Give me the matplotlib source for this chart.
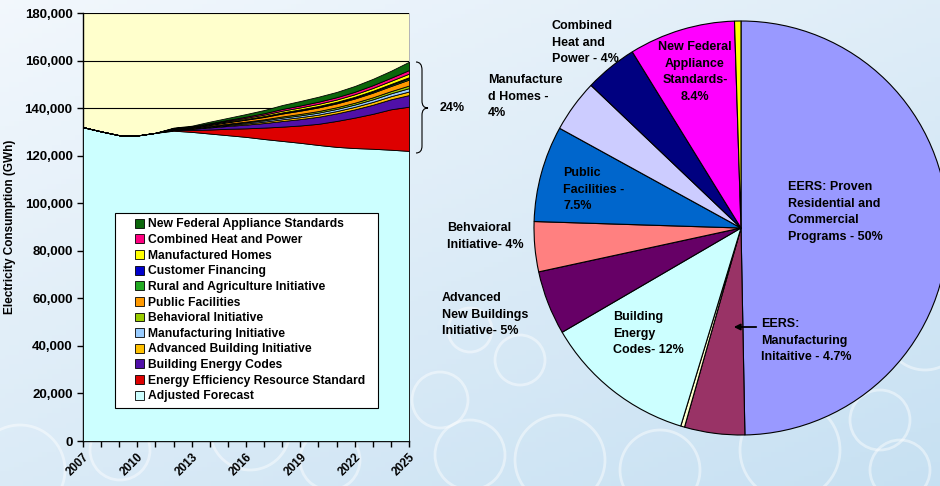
"""Energy savings: stacked consumption forecast (left) and savings share pie (right)."""
import matplotlib

matplotlib.use("Agg")
import matplotlib.pyplot as plt
import numpy as np
from matplotlib.patches import Patch, Rectangle, Circle, PathPatch, FancyArrowPatch
from matplotlib.path import Path
from matplotlib.ticker import FuncFormatter

plt.rcParams["font.family"] = ["Liberation Sans", "DejaVu Sans"]
plt.rcParams["font.weight"] = "bold"
plt.rcParams["axes.labelweight"] = "bold"

# ---- left chart data (GWh) ----
years = [2007, 2008, 2009, 2010, 2011, 2012, 2013, 2014, 2015, 2016,
         2017, 2018, 2019, 2020, 2021, 2022, 2023, 2024, 2025]
adjusted_forecast = [132000, 130200, 128600, 128500, 129600, 130500, 130000, 129300, 128600, 127900,
                     127000, 126200, 125400, 124500, 123700, 123200, 122900, 122500, 122000]
eers = [0, 0, 0, 0, 0, 300, 800, 1700, 2700, 3600, 4800, 6000, 7300, 8900, 10900, 12800, 14700, 17000, 18600]
building_codes = [0, 0, 0, 0, 0, 260, 470, 860, 1200, 1560, 1920, 2370, 2680, 2960, 3170, 3460, 3820, 4210, 4900]
advanced_building = [0, 0, 0, 0, 0, 80, 140, 260, 370, 480, 590, 730, 820, 910, 980, 1060, 1180, 1300, 1500]
manufacturing = [0, 0, 0, 0, 0, 70, 130, 240, 340, 440, 550, 670, 760, 840, 900, 980, 1090, 1200, 1400]
behavioral = [0, 0, 0, 0, 0, 60, 100, 190, 270, 350, 430, 530, 600, 660, 710, 770, 850, 940, 1100]
public_facilities = [0, 0, 0, 0, 0, 130, 240, 440, 610, 800, 980, 1210, 1370, 1520, 1620, 1770, 1960, 2150, 2500]
rural_agriculture = [0, 0, 0, 0, 0, 30, 60, 110, 150, 190, 240, 290, 330, 360, 390, 430, 470, 520, 600]
customer_financing = [0, 0, 0, 0, 0, 20, 40, 70, 100, 130, 160, 190, 220, 240, 260, 280, 310, 340, 400]
manufactured_homes = [0, 0, 0, 0, 0, 80, 140, 260, 370, 480, 590, 730, 820, 910, 980, 1060, 1180, 1300, 1500]
chp = [0, 0, 0, 0, 0, 80, 140, 260, 370, 480, 590, 730, 820, 910, 980, 1060, 1180, 1300, 1500]
federal_appliance = [0, 0, 0, 0, 0, 190, 340, 610, 820, 1090, 1350, 1650, 1880, 2090, 2210, 2430, 2660, 2940, 3500]

stack_names = ["Adjusted Forecast", "Energy Efficiency Resource Standard", "Building Energy Codes",
               "Advanced Building Initiative", "Manufacturing Initiative", "Behavioral Initiative",
               "Public Facilities", "Rural and Agriculture Initiative", "Customer Financing",
               "Manufactured Homes", "Combined Heat and Power", "New Federal Appliance Standards"]
stack_values = [adjusted_forecast, eers, building_codes, advanced_building, manufacturing, behavioral,
                public_facilities, rural_agriculture, customer_financing, manufactured_homes, chp,
                federal_appliance]
stack_colors = ["#CCFFFF", "#DD0000", "#5010A8", "#FFC000", "#99CCFF", "#99CC00",
                "#FF9900", "#22AA22", "#0000CC", "#FFFF00", "#FF0080", "#0B660B"]
year_labels = ["2007", "2010", "2013", "2016", "2019", "2022", "2025"]
savings_label = "24%"

# ---- right chart data (% of savings) ----
pie_labels = ["EERS: Proven\nResidential and\nCommercial\nPrograms - 50%",
              "EERS:\nManufacturing\nInitaitive - 4.7%",
              "",
              "Building\nEnergy\nCodes- 12%",
              "Advanced\nNew Buildings\nInitiative- 5%",
              "Behvaioral\nInitiative- 4%",
              "Public\nFacilities -\n7.5%",
              "Manufacture\nd Homes -\n4%",
              "Combined\nHeat and\nPower - 4%",
              "New Federal\nAppliance\nStandards-\n8.4%",
              ""]
pie_shares = [49.7, 4.7, 0.3, 11.9, 5.0, 3.9, 7.5, 4.1, 4.1, 8.3, 0.5]
pie_colors = ["#9999FF", "#993366", "#FFFFCC", "#CCFFFF", "#660066", "#FF8080",
              "#0066CC", "#CCCCFF", "#000080", "#FF00FF", "#FFFF00"]

W, H = 940, 486


def fx(x):
    return x / W


def fy(y):
    return 1 - y / H


fig = plt.figure(figsize=(W / 100, H / 100), dpi=100)

# background gradient + faint circles (pixel coordinates)
bg = fig.add_axes([0, 0, 1, 1], zorder=-10)
gx, gy = np.meshgrid(np.linspace(0, 1, 200), np.linspace(0, 1, 100))
t = np.clip(0.45 * gx + 0.55 * gy, 0, 1)[..., None]
c0 = np.array([0.95, 0.97, 0.99])
c1 = np.array([0.78, 0.88, 0.95])
bg.imshow(c0 * (1 - t) + c1 * t, aspect="auto", extent=[0, W, H, 0])
for cx, cy, r in [(20, 470, 45), (120, 450, 30), (250, 430, 40), (330, 460, 30), (470, 455, 35),
                  (520, 360, 25), (560, 460, 45), (660, 470, 40), (790, 450, 50), (880, 420, 30),
                  (925, 330, 40), (900, 470, 30), (470, 330, 22), (440, 400, 28)]:
    bg.add_patch(Circle((cx, cy), r, fill=False, edgecolor="white", lw=2, alpha=0.45))
bg.set_xlim(0, W)
bg.set_ylim(H, 0)
bg.axis("off")

# ---- stacked area ----
ax = fig.add_axes([fx(83), fy(441), fx(409) - fx(83), fy(13) - fy(441)])
ax.set_facecolor("#FFFFCC")
ax.stackplot(years, *stack_values, colors=stack_colors, edgecolor="black", linewidth=0.6, zorder=3)
ax.set_xlim(2007, 2025)
ax.set_ylim(0, 180000)
ax.set_yticks(np.arange(0, 180001, 20000))
ax.yaxis.set_major_formatter(FuncFormatter(lambda v, p: f"{int(v):,}"))
ax.yaxis.grid(True, color="black", lw=0.8)
ax.set_axisbelow(True)
ax.set_xticks(years)
ax.set_xticklabels([str(y) if str(y) in year_labels else "" for y in years],
                   rotation=45, ha="right", rotation_mode="anchor", fontsize=8.5)
ax.tick_params(axis="y", labelsize=9.5, length=4, width=1)
ax.tick_params(axis="x", length=4, width=1, pad=3)
ax.set_ylabel("Electricity Consumption (GWh)", fontsize=8.5, fontweight="bold", labelpad=6)
ax.spines["top"].set_visible(False)
ax.spines["right"].set_color("#aaaaaa")
ax.spines["right"].set_linewidth(0.6)
ax.spines["left"].set_linewidth(1.0)
ax.spines["bottom"].set_linewidth(1.0)

ax.add_patch(Rectangle((fx(115), fy(408)), fx(378) - fx(115), fy(213) - fy(408),
                       transform=fig.transFigure, facecolor="white", edgecolor="black",
                       lw=0.8, zorder=5))
handles = [Patch(facecolor=c, edgecolor="black", lw=0.6, label=n)
           for n, c in zip(stack_names, stack_colors)][::-1]
leg = ax.legend(handles=handles, loc="upper left", bbox_to_anchor=(fx(133), fy(216)),
                bbox_transform=fig.transFigure, frameon=False, fontsize=8.7,
                handlelength=0.75, handleheight=0.75, handletextpad=0.3,
                labelspacing=0.3, borderaxespad=0, borderpad=0.2)
leg.set_zorder(6)

# brace and 24%
verts = [(416, 62), (422, 62), (422, 70), (422, 101), (422, 108), (428, 108),
         (422, 108), (422, 115), (422, 146), (422, 153), (416, 153)]
codes = [Path.MOVETO, Path.CURVE3, Path.CURVE3, Path.LINETO, Path.CURVE3, Path.CURVE3,
         Path.CURVE3, Path.CURVE3, Path.LINETO, Path.CURVE3, Path.CURVE3]
brace = Path([(fx(x), fy(y)) for x, y in verts], codes)
fig.add_artist(PathPatch(brace, transform=fig.transFigure, fill=False, edgecolor="black", lw=0.8))
fig.text(fx(440), fy(108), savings_label, fontsize=9, va="center", ha="left")

# ---- pie ----
pax = fig.add_axes([fx(534), fy(435), fx(948) - fx(534), fy(21) - fy(435)])
pax.pie(pie_shares, colors=pie_colors, startangle=90, counterclock=False,
        wedgeprops=dict(edgecolor="black", linewidth=0.8))
pax.set_xlim(-1, 1)
pax.set_ylim(-1, 1)

label_pos = [(788, 181, "left"), (761, 318, "left"), None, (613, 311, "left"), (442, 292, "left"),
             (447, 222, "left"), (563, 167, "left"), (488, 74, "left"), (552, 20, "left"),
             (695, 41, "center"), None]
for lab, pos in zip(pie_labels, label_pos):
    if pos is None:
        continue
    x, y, ha = pos
    fig.text(fx(x), fy(y), lab, fontsize=9, va="top", ha=ha, linespacing=1.5)

fig.add_artist(FancyArrowPatch((fx(759), fy(327)), (fx(731), fy(327)), transform=fig.transFigure,
                               arrowstyle="-|>", mutation_scale=9, color="black", lw=1.3))

fig.savefig("out.png", dpi=100)
